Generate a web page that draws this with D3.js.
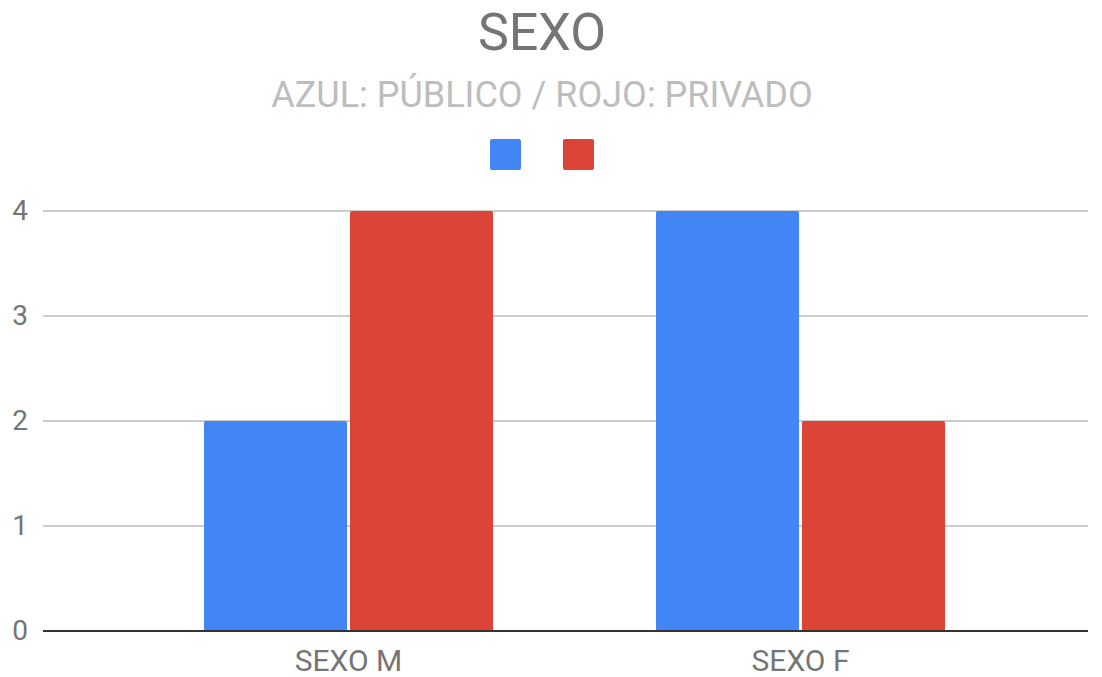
<!DOCTYPE html>
<html><head><meta charset="utf-8">
<script src="https://cdn.jsdelivr.net/npm/d3@7"></script>
<style>body{margin:0;background:#fff}svg{display:block}text{font-family:Roboto,sans-serif}</style>
</head><body>
<script>
const categories = ["SEXO M", "SEXO F"];
const seriesNames = ["Público", "Privado"];
const publico = [2, 4];
const privado = [4, 2];
const yTicks = [0, 1, 2, 3, 4];
const colors = ["#4285f4", "#db4437"];

const W = 1102, H = 677;
const svg = d3.select("body").append("svg").attr("width", W).attr("height", H);

const gridLeft = 43, gridRight = 1088;
const x = d3.scaleBand().domain(categories).range([122.5, 1026.5]).paddingInner(0).paddingOuter(0);
const y = d3.scaleLinear().domain([0, 4]).range([631, 211]);
const x1 = d3.scaleBand().domain(seriesNames).range([0, 289]).paddingInner(0.02);

// title
svg.append("text").attr("x", 542).attr("y", 50).attr("text-anchor", "middle")
  .attr("font-size", 52).attr("fill", "#757575").text("SEXO");
svg.append("text").attr("x", 542).attr("y", 107).attr("text-anchor", "middle")
  .attr("font-size", 36).attr("fill", "#bdbdbd").text("AZUL: PÚBLICO / ROJO: PRIVADO");

// legend
const legX = [490, 563];
seriesNames.forEach((s, i) => {
  svg.append("rect").attr("x", legX[i]).attr("y", 139).attr("width", 31).attr("height", 31)
    .attr("rx", 2).attr("fill", colors[i]);
});

// gridlines
const grid = svg.append("g");
yTicks.filter(t => t !== 0).forEach(t => {
  grid.append("line").attr("x1", gridLeft).attr("x2", gridRight)
    .attr("y1", y(t)).attr("y2", y(t)).attr("stroke", "#cccccc").attr("stroke-width", 2);
});
const yAxis = d3.axisLeft(y).tickValues(yTicks).tickSize(0).tickPadding(0).tickFormat(d3.format("d"));
const ya = svg.append("g").attr("transform", `translate(28,0)`).call(yAxis);
ya.select(".domain").remove();
ya.selectAll("text").attr("font-size", 28).attr("fill", "#757575").attr("font-family", "Roboto, sans-serif");

// bars
const data = categories.map((c, i) => ({cat: c, vals: [publico[i], privado[i]]}));
const groups = svg.append("g").selectAll("g").data(data).join("g")
  .attr("transform", d => `translate(${x(d.cat) + (x.bandwidth() - 289) / 2},0)`);
groups.selectAll("rect").data(d => d.vals.map((v, i) => ({v, s: seriesNames[i], i})))
  .join("rect")
  .attr("x", d => x1(d.s)).attr("width", x1.bandwidth())
  .attr("y", d => y(d.v)).attr("height", d => y(0) - y(d.v))
  .attr("rx", 2).attr("fill", d => colors[d.i]);

// baseline
svg.append("line").attr("x1", gridLeft).attr("x2", gridRight).attr("y1", y(0)).attr("y2", y(0))
  .attr("stroke", "#333333").attr("stroke-width", 2);

// x axis labels
const xAxis = d3.axisBottom(x).tickSize(0).tickPadding(0);
const xa = svg.append("g").attr("transform", `translate(0,${y(0)})`).call(xAxis);
xa.select(".domain").remove();
xa.selectAll("text").attr("font-size", 30).attr("fill", "#757575").attr("dy", null).attr("y", 40)
  .attr("font-family", "Roboto, sans-serif");
</script>
</body></html>
